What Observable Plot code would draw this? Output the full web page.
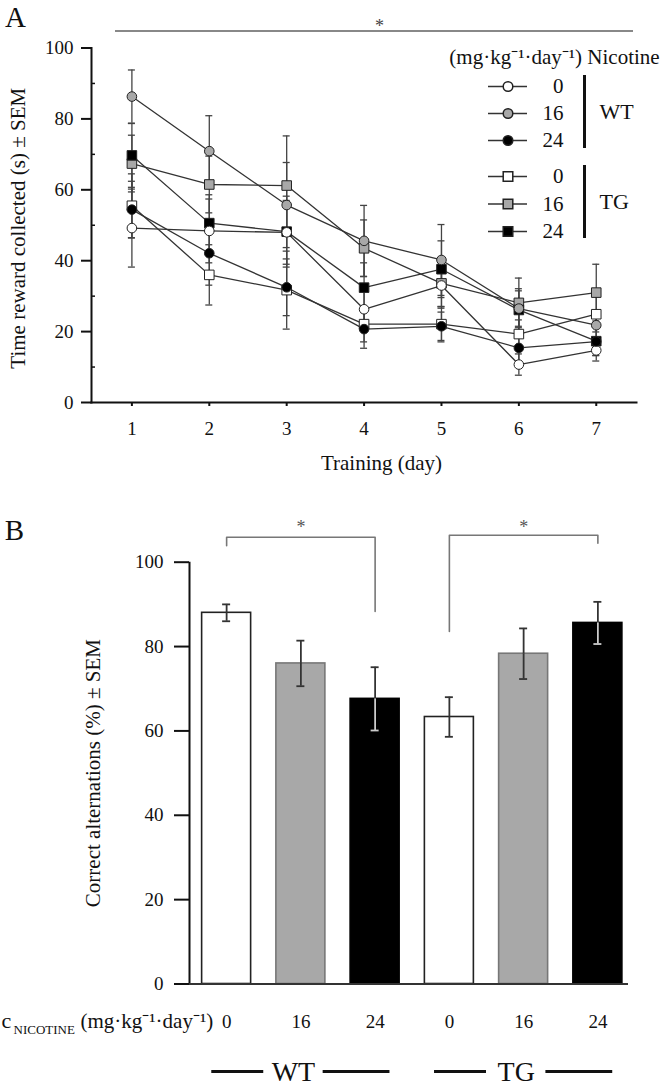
<!DOCTYPE html>
<html><head><meta charset="utf-8">
<script src="https://cdn.jsdelivr.net/npm/d3@7"></script>
<script src="https://cdn.jsdelivr.net/npm/@observablehq/plot@0.6"></script>
<style>
body{margin:0;background:#fff;}
#chart{width:670px;}
#chart svg{display:block;font-family:"Liberation Serif","Times New Roman",serif;}
</style></head><body><div id="chart"></div>
<script>
// ---------- data ----------
const days = [1, 2, 3, 4, 5, 6, 7];
const seriesKeys = ["WT0", "WT16", "WT24", "TG0", "TG16", "TG24"];
const groupNames = ["WT", "WT", "WT", "TG", "TG", "TG"];
const doseLabels = ["0", "16", "24", "0", "16", "24"];

// Panel A: time reward collected (s), mean and SEM per day
const wt0 = [49.2, 48.4, 48.0, 26.3, 33.0, 10.7, 14.7];
const wt16 = [86.3, 70.9, 55.7, 45.6, 40.2, 26.5, 21.8];
const wt24 = [54.4, 42.1, 32.5, 20.7, 21.5, 15.4, 17.2];
const tg0 = [55.5, 36.0, 31.7, 22.1, 22.1, 19.3, 24.9];
const tg16 = [67.4, 61.5, 61.2, 43.5, 33.6, 28.1, 31.0];
const tg24 = [69.7, 50.6, 48.2, 32.4, 37.6, 26.1, 17.3];
const wt0Sem = [11, 9, 9, 6, 6, 3, 3];
const wt16Sem = [7.5, 10, 12, 10, 10, 5, 4];
const wt24Sem = [8, 9, 8, 5.4, 4, 4, 4];
const tg0Sem = [9, 8.5, 11, 5, 5, 4, 5];
const tg16Sem = [8, 8, 14, 8, 7, 7, 8];
const tg24Sem = [9, 8, 10, 7, 8, 6, 4];
const timeValues = [wt0, wt16, wt24, tg0, tg16, tg24];
const timeSem = [wt0Sem, wt16Sem, wt24Sem, tg0Sem, tg16Sem, tg24Sem];
const yTicksA = [0, 20, 40, 60, 80, 100];
const yMinorA = [10, 30, 50, 70, 90];

// Panel B: correct alternations (%), mean and SEM
const alternation = [88.0, 76.0, 67.6, 63.3, 78.3, 85.6];
const alternationSem = [2.0, 5.4, 7.5, 4.7, 6.0, 5.0];
const yTicksB = [0, 20, 40, 60, 80, 100];
// significance brackets (bar index from/to, y ends and top)
const bracketFrom = [0, 3];
const bracketTo = [2, 5];
const bracketLeftEnd = [103.9, 83.6];
const bracketTop = [105.9, 106.4];
const bracketRightEnd = [88.3, 104.5];

// ---------- styles ----------
const fills = {"0": "#ffffff", "16": "#a8a8a8", "24": "#000000"};
const barStrokes = {"0": "#222222", "16": "#777777", "24": "#000000"};
const FONT = "Liberation Serif";
const legendTitle = "(mg·kg⁻¹·day⁻¹) Nicotine";

// ---------- Panel A ----------
const pxA = {left: 91, right: 636, top: 47.5, bottom: 402, height: 480};
const xDomA = [0.478, 7.52];
const xA = d3.scaleLinear(xDomA, [pxA.left, pxA.right]);
const yA = d3.scaleLinear([0, 100], [pxA.bottom, pxA.top]);
const capA = xA.invert(pxA.left + 3.5) - xDomA[0];
const minorA = xA.invert(pxA.left + 4);

const rowsA = seriesKeys.flatMap((key, i) => days.map((day, j) => ({
  key, group: groupNames[i], dose: doseLabels[i], day,
  value: timeValues[i][j], sem: timeSem[i][j]
})));
const legendRows = seriesKeys.map((key, i) => ({
  key, group: groupNames[i], dose: doseLabels[i],
  y: yA.invert(i < 3 ? 86 + 27 * i : 176 + 27.5 * (i - 3))
}));
const legX = {l1: xA.invert(488), l2: xA.invert(527), m: xA.invert(507.5), lab: xA.invert(563), bar: xA.invert(584), grp: xA.invert(599)};
const legGroups = [
  {label: "WT", y1: yA.invert(75), y2: yA.invert(148)},
  {label: "TG", y1: yA.invert(165), y2: yA.invert(238)}
];

const plotA = Plot.plot({
  width: 670, height: pxA.height,
  marginLeft: pxA.left, marginRight: 670 - pxA.right, marginTop: pxA.top, marginBottom: pxA.height - pxA.bottom,
  x: {domain: xDomA},
  y: {domain: [0, 100]},
  style: {fontFamily: FONT, fontSize: "19px", color: "#111", background: "white", overflow: "visible"},
  marks: [
    Plot.frame({anchor: "left", stroke: "#111", strokeWidth: 2}),
    Plot.frame({anchor: "bottom", stroke: "#111", strokeWidth: 2}),
    Plot.axisY({ticks: yTicksA, tickSize: 10, tickPadding: 8, fontSize: 19, label: null, strokeWidth: 2}),
    Plot.ruleY(yMinorA, {x1: xDomA[0], x2: minorA, stroke: "#111", strokeWidth: 1.5}),
    Plot.axisX({ticks: days, tickSize: 4, tickPadding: 15, fontSize: 19, label: null, tickFormat: "d", strokeWidth: 2}),
    // error bars
    Plot.ruleX(rowsA, {x: "day", y1: d => d.value - d.sem, y2: d => d.value + d.sem, stroke: "#444", strokeWidth: 1.3}),
    Plot.ruleY(rowsA, {y: d => d.value + d.sem, x1: d => d.day - capA, x2: d => d.day + capA, stroke: "#444", strokeWidth: 1.3}),
    Plot.ruleY(rowsA, {y: d => d.value - d.sem, x1: d => d.day - capA, x2: d => d.day + capA, stroke: "#444", strokeWidth: 1.3}),
    // lines
    Plot.line(rowsA, {x: "day", y: "value", z: "key", stroke: "#333", strokeWidth: 1.3}),
    // markers
    Plot.dot(rowsA.filter(d => d.group === "TG"), {x: "day", y: "value", symbol: "square", r: 5.4, fill: d => fills[d.dose], stroke: "#222", strokeWidth: 1}),
    Plot.dot(rowsA.filter(d => d.group === "WT"), {x: "day", y: "value", symbol: "circle", r: 4.8, fill: d => fills[d.dose], stroke: "#222", strokeWidth: 1}),
    // significance line
    Plot.ruleY([yA.invert(30.5)], {x1: xA.invert(115), x2: xA.invert(633), stroke: "#888", strokeWidth: 2}),
    Plot.text(["*"], {x: xA.invert(379), y: yA.invert(25.5), fontSize: 18, fill: "#444", lineAnchor: "middle"}),
    // legend
    Plot.text([legendTitle], {x: xA.invert(554), y: yA.invert(57), fontSize: 21, lineAnchor: "middle"}),
    Plot.ruleY(legendRows, {y: "y", x1: legX.l1, x2: legX.l2, stroke: "#333", strokeWidth: 1.3}),
    Plot.dot(legendRows.filter(d => d.group === "WT"), {x: legX.m, y: "y", symbol: "circle", r: 4.8, fill: d => fills[d.dose], stroke: "#222"}),
    Plot.dot(legendRows.filter(d => d.group === "TG"), {x: legX.m, y: "y", symbol: "square", r: 5.4, fill: d => fills[d.dose], stroke: "#222"}),
    Plot.text(legendRows, {x: legX.lab, y: "y", text: "dose", textAnchor: "end", fontSize: 21, lineAnchor: "middle"}),
    Plot.ruleX(legGroups, {x: legX.bar, y1: "y1", y2: "y2", stroke: "#111", strokeWidth: 3}),
    Plot.text(legGroups, {x: legX.grp, y: d => (d.y1 + d.y2) / 2, text: "label", textAnchor: "start", fontSize: 22, lineAnchor: "middle"}),
    // titles
    Plot.text(["Training (day)"], {x: xA.invert(381), frameAnchor: "bottom", dy: 61, fontSize: 21, lineAnchor: "middle"}),
    Plot.text(["Time reward collected (s) ± SEM"], {frameAnchor: "left", textAnchor: "middle", rotate: -90, dx: -73, dy: 3, fontSize: 21, lineAnchor: "middle"}),
    Plot.text(["A"], {frameAnchor: "top-left", textAnchor: "middle", dx: 15 - pxA.left, dy: 17 - pxA.top, fontSize: 29, lineAnchor: "middle"})
  ]
});

// ---------- Panel B ----------
const pxB = {left: 189, right: 634.5, top: 81.7, bottom: 503.5, height: 608};
const xDomB = [-0.5, 5.5];
const xB = d3.scaleLinear(xDomB, [pxB.left, pxB.right]);
const yB = d3.scaleLinear([0, 100], [pxB.bottom, pxB.top]);
const unitB = (xDomB[1] - xDomB[0]) / (pxB.right - pxB.left);
const halfBar = 24.5 * unitB;
const capB = 4 * unitB;

const rowsB = seriesKeys.map((key, i) => ({
  key, i, group: groupNames[i], dose: doseLabels[i],
  value: alternation[i], sem: alternationSem[i]
}));
const bracketPts = bracketFrom.flatMap((f, k) => [
  {b: k, x: f, y: bracketLeftEnd[k]},
  {b: k, x: f, y: bracketTop[k]},
  {b: k, x: bracketTo[k], y: bracketTop[k]},
  {b: k, x: bracketTo[k], y: bracketRightEnd[k]}
]);
const starsB = bracketFrom.map((f, k) => ({x: (f + bracketTo[k]) / 2}));
const groupSpans = ["WT", "TG"].map(g => {
  const idx = rowsB.filter(d => d.group === g).map(d => d.i);
  const a = d3.min(idx), b = d3.max(idx), c = (a + b) / 2 - 0.1;
  return {g, a: a - 0.2, b: b + 0.2, c, gl: c - 0.4, gr: c + 0.4};
});
const yLineG = yB.invert(591);

const plotB = Plot.plot({
  width: 670, height: pxB.height,
  marginLeft: pxB.left, marginRight: 670 - pxB.right, marginTop: pxB.top, marginBottom: pxB.height - pxB.bottom,
  x: {domain: xDomB},
  y: {domain: [0, 100]},
  style: {fontFamily: FONT, fontSize: "19px", color: "#111", background: "white", overflow: "visible"},
  marks: [
    Plot.rectY(rowsB, {x1: d => d.i - halfBar, x2: d => d.i + halfBar, y1: 0, y2: "value", fill: d => fills[d.dose], stroke: d => barStrokes[d.dose], strokeWidth: 1.6}),
    // error bars
    Plot.ruleX(rowsB, {x: "i", y1: "value", y2: d => d.value + d.sem, stroke: "#333", strokeWidth: 1.8}),
    Plot.ruleX(rowsB, {x: "i", y1: d => d.value - d.sem, y2: "value", stroke: d => d.dose === "24" ? "#cccccc" : "#333333", strokeWidth: 1.8}),
    Plot.ruleY(rowsB, {y: d => d.value + d.sem, x1: d => d.i - capB, x2: d => d.i + capB, stroke: "#333", strokeWidth: 1.8}),
    Plot.ruleY(rowsB, {y: d => d.value - d.sem, x1: d => d.i - capB, x2: d => d.i + capB, stroke: d => d.dose === "24" ? "#cccccc" : "#333333", strokeWidth: 1.8}),
    // axes
    Plot.ruleX([xDomB[0]], {y1: 0, y2: 100, stroke: "#111", strokeWidth: 2}),
    Plot.ruleY([0], {x1: xDomB[0], x2: xB.invert(628), stroke: "#333", strokeWidth: 2}),
    Plot.axisY({ticks: yTicksB, tickSize: 15, tickPadding: 11, fontSize: 19, label: null, strokeWidth: 2}),
    Plot.axisX({ticks: rowsB.map(d => d.i), tickSize: 0, tickPadding: 30, fontSize: 19, label: null, tickFormat: i => doseLabels[i]}),
    // brackets
    Plot.line(bracketPts, {x: "x", y: "y", z: "b", stroke: "#777", strokeWidth: 1.6}),
    Plot.text(starsB, {x: "x", y: yB.invert(46.9), text: () => "*", fontSize: 18, fill: "#555", lineAnchor: "middle"}),
    // bottom labels
    Plot.text(["c"], {x: xB.invert(1), y: yB.invert(540), textAnchor: "start", fontSize: 22, lineAnchor: "middle"}),
    Plot.text(["NICOTINE"], {x: xB.invert(13), y: yB.invert(549), textAnchor: "start", fontSize: 13, lineAnchor: "middle"}),
    Plot.text(["(mg·kg⁻¹·day⁻¹)"], {x: xB.invert(80), y: yB.invert(540.6), textAnchor: "start", fontSize: 21, lineAnchor: "middle"}),
    Plot.ruleY(groupSpans, {y: yLineG, x1: "a", x2: "gl", stroke: "#111", strokeWidth: 3}),
    Plot.ruleY(groupSpans, {y: yLineG, x1: "gr", x2: "b", stroke: "#111", strokeWidth: 3}),
    Plot.text(groupSpans, {x: "c", y: yB.invert(592), text: "g", fontSize: 28, lineAnchor: "middle"}),
    // title and panel letter
    Plot.text(["Correct alternations (%) ± SEM"], {frameAnchor: "left", textAnchor: "middle", rotate: -90, dx: 93 - pxB.left, dy: 0, fontSize: 21, lineAnchor: "middle"}),
    Plot.text(["B"], {frameAnchor: "top-left", textAnchor: "middle", dx: 14 - pxB.left, dy: 50 - pxB.top, fontSize: 29, lineAnchor: "middle"})
  ]
});

const root = document.getElementById("chart");
root.appendChild(plotA);
root.appendChild(plotB);
</script></body></html>
